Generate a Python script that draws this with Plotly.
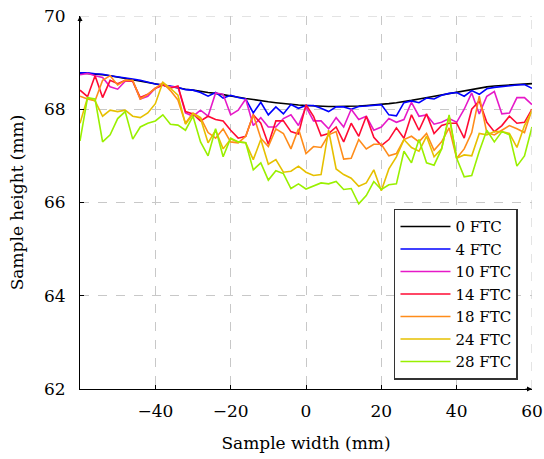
import plotly.graph_objects as go

# sample width positions (mm)
width_mm = list(range(-60, 61, 2))

h_0ftc = [68.78, 68.77, 68.76, 68.74, 68.72, 68.69, 68.66, 68.64, 68.61, 68.57,
          68.54, 68.51, 68.49, 68.46, 68.43, 68.41, 68.38, 68.36, 68.34, 68.31,
          68.28, 68.26, 68.23, 68.21, 68.18, 68.16, 68.14, 68.12, 68.10, 68.09,
          68.08, 68.07, 68.07, 68.06, 68.06, 68.06, 68.06, 68.07, 68.08, 68.09,
          68.10, 68.12, 68.14, 68.16, 68.19, 68.22, 68.25, 68.28, 68.31, 68.34,
          68.37, 68.40, 68.43, 68.46, 68.48, 68.50, 68.51, 68.52, 68.53, 68.54, 68.55]
h_4ftc = [68.78, 68.78, 68.76, 68.75, 68.72, 68.70, 68.67, 68.65, 68.62, 68.58,
          68.54, 68.52, 68.50, 68.47, 68.42, 68.41, 68.36, 68.28, 68.36, 68.24,
          68.30, 68.25, 68.22, 67.92, 68.15, 67.88, 68.05, 67.90, 68.10, 68.02,
          68.08, 68.08, 68.02, 67.95, 68.05, 68.05, 68.00, 68.06, 68.07, 68.08,
          68.10, 67.88, 67.86, 68.14, 68.18, 68.14, 68.24, 68.22, 68.30, 68.34,
          68.36, 68.28, 68.40, 68.32, 68.44, 68.47, 68.49, 68.50, 68.52, 68.53, 68.45]
h_10ftc = [68.74, 68.77, 68.72, 68.68, 68.48, 68.43, 68.60, 68.60, 68.22, 68.28,
           68.45, 68.52, 68.48, 68.48, 67.92, 67.85, 67.98, 67.85, 68.35, 68.32,
           67.88, 67.98, 68.22, 67.65, 67.82, 67.62, 67.62, 67.80, 67.88, 67.65,
           68.05, 67.75, 67.75, 67.58, 67.82, 67.62, 68.00, 67.78, 67.85, 67.55,
           67.62, 67.80, 67.72, 67.78, 68.15, 67.85, 67.88, 67.68, 67.72, 67.80,
           67.72, 68.00, 68.35, 67.90, 68.28, 68.38, 67.90, 67.92, 68.25, 68.25, 68.10]
h_14ftc = [68.41, 68.27, 68.72, 68.25, 68.62, 68.55, 68.62, 68.60, 68.25, 68.32,
           68.45, 68.52, 68.45, 68.50, 67.95, 67.90, 67.75, 67.85, 67.78, 67.75,
           67.55, 67.38, 67.42, 67.88, 67.70, 67.25, 67.75, 67.75, 67.52, 67.47,
           68.10, 67.85, 67.43, 67.48, 67.62, 67.30, 67.70, 67.42, 67.85, 67.40,
           67.22, 67.35, 67.60, 67.38, 67.88, 67.55, 67.90, 67.48, 67.65, 67.70,
           67.70, 67.38, 68.00, 68.18, 67.72, 67.52, 67.65, 67.85, 67.70, 67.72, 68.00]
h_18ftc = [68.28, 68.22, 68.18, 68.62, 68.72, 68.52, 68.62, 68.62, 68.22, 68.32,
           68.45, 68.57, 68.40, 68.20, 67.70, 67.92, 67.82, 67.50, 67.38, 67.58,
           67.30, 67.28, 67.42, 67.88, 67.38, 67.20, 67.58, 67.48, 67.15, 67.58,
           67.05, 67.20, 67.18, 67.45, 67.52, 66.93, 66.95, 67.35, 67.15, 67.25,
           67.25, 67.00, 67.05, 67.35, 67.42, 67.30, 67.48, 67.12, 67.30, 67.60,
           66.95, 67.15, 67.50, 68.28, 67.50, 67.45, 67.55, 67.65, 67.58, 67.50, 68.00]
h_24ftc = [67.70, 68.25, 68.18, 67.85, 67.98, 67.95, 67.98, 67.85, 67.82, 67.92,
           68.12, 68.58, 68.45, 68.30, 67.68, 67.90, 67.80, 67.28, 67.55, 67.15,
           67.36, 67.30, 67.28, 66.92, 67.35, 66.82, 66.92, 66.65, 66.67, 66.78,
           66.65, 66.58, 66.60, 67.55, 66.72, 66.60, 66.52, 66.35, 66.42, 66.70,
           66.25, 66.72, 66.98, 67.35, 67.18, 67.10, 67.42, 66.98, 67.15, 67.85,
           66.95, 67.02, 67.00, 67.48, 67.45, 67.52, 67.52, 67.48, 67.18, 67.65, 67.96]
h_28ftc = [67.32, 68.25, 68.22, 67.30, 67.45, 67.80, 67.95, 67.36, 67.62, 67.70,
           67.75, 67.88, 67.68, 67.66, 67.55, 67.85, 67.30, 67.00, 67.58, 66.98,
           67.38, 67.30, 67.28, 66.70, 66.85, 66.48, 66.68, 66.62, 66.30, 66.40,
           66.29, 66.35, 66.42, 66.40, 66.45, 66.28, 66.30, 65.97, 66.15, 66.45,
           66.28, 66.38, 66.40, 67.10, 66.85, 67.35, 66.85, 66.80, 67.15, 67.88,
           66.95, 66.55, 66.58, 67.10, 67.55, 67.30, 67.52, 67.45, 66.78, 67.00, 67.62]

series_names = ['0 FTC', '4 FTC', '10 FTC', '14 FTC', '18 FTC', '24 FTC', '28 FTC']
series_vals = [h_0ftc, h_4ftc, h_10ftc, h_14ftc, h_18ftc, h_24ftc, h_28ftc]
series_cols = ['#000000', '#0000ff', '#e619c8', '#ff0a33', '#ff8c1a', '#e6c000', '#99f000']

x_ticks = [-40, -20, 0, 20, 40, 60]
y_ticks = [62, 64, 66, 68, 70]

fig = go.Figure()
for name, vals, col in zip(series_names, series_vals, series_cols):
    fig.add_trace(go.Scatter(x=width_mm, y=vals, mode='lines', name=name,
                             line=dict(color=col, width=1.6)))

font_family = 'DejaVu Serif, Liberation Serif, serif'
grid = dict(showgrid=True, gridcolor='#c8c8c8', griddash='dash', gridwidth=1,
            zeroline=False, showline=True, linecolor='black', linewidth=1,
            ticks='inside', ticklen=4, tickcolor='black', automargin=False,
            ticklabeloverflow='allow',
            tickfont=dict(size=17, color='black'))

fig.update_layout(
    width=544, height=459,
    margin=dict(l=80, r=12, t=16, b=70, autoexpand=False),
    plot_bgcolor='white', paper_bgcolor='white',
    font=dict(family=font_family, color='black', size=17),
    xaxis=dict(range=[-60, 60], tickvals=x_ticks,
               ticktext=['\u221240', '\u221220', '0', '20', '40', '60'],
               ticklabelstandoff=7,
               title=dict(text='Sample width (mm)', font=dict(size=17), standoff=16),
               **grid),
    yaxis=dict(range=[62, 70], tickvals=y_ticks, ticklabelstandoff=10,
               title=dict(text='Sample height (mm)', font=dict(size=17), standoff=16),
               **grid),
    legend=dict(x=0.969, y=0.025, xanchor='right', yanchor='bottom',
                bgcolor='white', bordercolor='#333333', borderwidth=1.5,
                font=dict(size=15), tracegroupgap=0, itemwidth=50),
    showlegend=True,
)

# top grid line and right grid line (dashed) to close the frame like the reference
fig.add_shape(type='line', xref='x', yref='y', x0=-60, x1=60, y0=70, y1=70,
              line=dict(color='#c8c8c8', dash='dash', width=1))
fig.add_shape(type='line', xref='x', yref='y', x0=60, x1=60, y0=62, y1=70,
              line=dict(color='#c8c8c8', dash='dash', width=1))

# arrow heads on the axes
fig.add_annotation(x=-60, y=70, xref='x', yref='y', ax=0, ay=8, text='',
                   showarrow=True, arrowhead=2, arrowsize=1, arrowwidth=1, arrowcolor='black')
fig.add_annotation(x=60, y=62, xref='x', yref='y', ax=-8, ay=0, text='',
                   showarrow=True, arrowhead=2, arrowsize=1, arrowwidth=1, arrowcolor='black')

# drop the default page margin so the figure fills the window
fig.write_html('out.html', config={'displayModeBar': False},
               post_script="document.body.style.margin='0';")
